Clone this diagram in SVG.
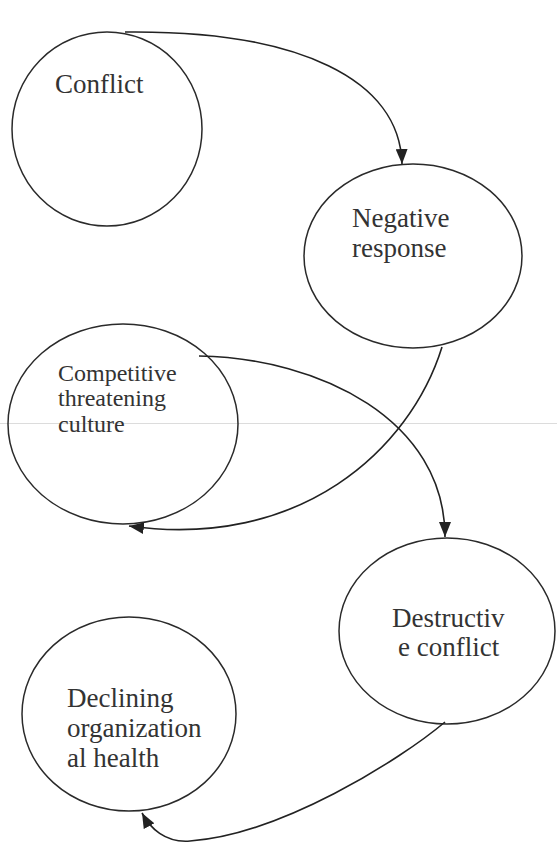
<svg xmlns="http://www.w3.org/2000/svg" width="557" height="843" viewBox="0 0 557 843">
<style>
.node ellipse{fill:none;stroke:#2a2a2a;stroke-width:1.5}
.node text{font-family:"Liberation Serif","Times New Roman",serif;font-size:27px;fill:#333}
.node text.small{font-size:24px}
.conn path{fill:none;stroke:#222;stroke-width:1.6}
</style>
<defs>
<marker id="arr" markerUnits="userSpaceOnUse" markerWidth="16" markerHeight="12" refX="15" refY="6" orient="auto">
<path d="M0,0 L15,6 L0,12 Z" fill="#222"/>
</marker>
</defs>
<rect width="557" height="843" fill="#ffffff"/>
<line x1="0" y1="423.5" x2="557" y2="423.5" stroke="#dcdcdc" stroke-width="1"/>
<g id="conflict" class="node">
<ellipse cx="107" cy="129" rx="95" ry="97"/>
<text x="55" y="93">Conflict</text>
</g>
<g id="negative-response" class="node">
<ellipse cx="413" cy="256" rx="109" ry="92"/>
<text x="352" y="227">Negative</text>
<text x="352" y="257">response</text>
</g>
<g id="competitive-culture" class="node">
<ellipse cx="123" cy="424" rx="115" ry="100"/>
<text class="small" x="58" y="381">Competitive</text>
<text class="small" x="58" y="406">threatening</text>
<text class="small" x="58" y="432">culture</text>
</g>
<g id="destructive-conflict" class="node">
<ellipse cx="447" cy="631" rx="108" ry="93"/>
<text x="392" y="627">Destructiv</text>
<text x="398" y="656">e conflict</text>
</g>
<g id="declining-health" class="node">
<ellipse cx="129" cy="714" rx="107" ry="97"/>
<text x="67" y="707">Declining</text>
<text x="67" y="737">organization</text>
<text x="67" y="767">al health</text>
</g>
<g id="connectors" class="conn">
<path d="M125,32 C300,30 400,80 402,164" marker-end="url(#arr)"/>
<path d="M442,347 C410,450 300,550 129,526" marker-end="url(#arr)"/>
<path d="M199,356 C320,358 445,420 445,537" marker-end="url(#arr)"/>
<path d="M445,722 C400,760 280,835 190,841 C165,843 150,828 142,813" marker-end="url(#arr)"/>
</g>
</svg>
